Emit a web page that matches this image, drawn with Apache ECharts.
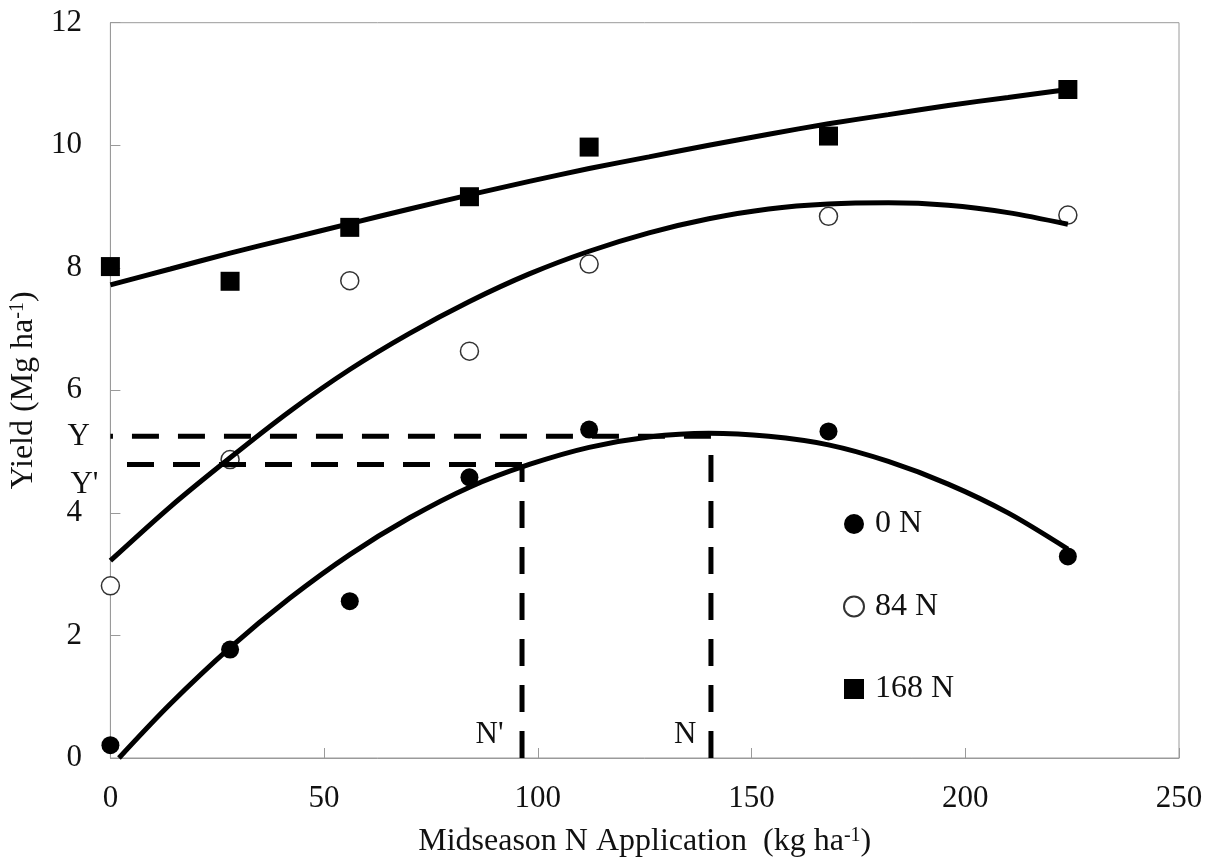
<!DOCTYPE html>
<html>
<head>
<meta charset="utf-8">
<script src="https://cdn.jsdelivr.net/npm/echarts@6/dist/echarts.min.js"></script>
<style>
  html, body { margin: 0; padding: 0; background: #fff; }
  #chart { width: 1217px; height: 863px; }
</style>
</head>
<body>
<div id="chart"></div>
<script>
// Midseason N rate (kg ha-1) and observed yields for three preplant N rates
const rates = [0, 28, 56, 84, 112, 168, 224];
const yield0N = [0.21, 1.77, 2.56, 4.58, 5.36, 5.33, 3.29];
const yield84N = [2.81, 4.87, 7.79, 6.64, 8.06, 8.84, 8.86];
const yield168N = [8.02, 7.78, 8.66, 9.16, 9.97, 10.15, 10.91];

// Fitted response curves, sampled along the N rate axis
const fitRates = [0, 14, 28, 42, 56, 70, 84, 98, 112, 126, 140, 154, 168, 182, 196, 210, 224];
const fit168N = [7.72, 7.98, 8.24, 8.48, 8.72, 8.96, 9.19, 9.41, 9.62, 9.81, 10.0, 10.18, 10.35, 10.5, 10.65, 10.78, 10.91];
const fit84N = [3.22, 4.1, 4.9, 5.66, 6.34, 6.93, 7.45, 7.9, 8.27, 8.57, 8.8, 8.96, 9.04, 9.06, 9.02, 8.9, 8.71];
const fit0NRates = [2, 14, 28, 42, 56, 70, 84, 98, 112, 126, 140, 154, 168, 182, 196, 210, 224];
const fit0N = [0, 0.88, 1.8, 2.61, 3.32, 3.92, 4.42, 4.79, 5.07, 5.24, 5.3, 5.25, 5.11, 4.84, 4.47, 4.0, 3.41];

// Guide lines: optimum (N, Y) and reduced (N', Y')
const optRate = 140.5, optYield = 5.25;
const primeRate = 96.3, primeYield = 4.79;

const seriesNames = ['0 N', '84 N', '168 N'];
const xTicks = [0, 50, 100, 150, 200, 250];
const yTicks = [0, 2, 4, 6, 8, 10, 12];

const FONT = "'Liberation Serif', 'Times New Roman', serif";
const INK = '#111';
const AXIS = '#9a9a9a';

const pairs = (xs, ys) => xs.map((x, i) => [x, ys[i]]);

const guide = { color: '#000', width: 5, type: [27, 19], cap: 'butt' };
const guideLabel = (text, distance, dy) => ({
  show: true, formatter: text, position: 'left', distance: distance, offset: [0, dy],
  fontFamily: FONT, fontSize: 31, color: INK
});
const guideSeries = (data, labelIndex, label) => ({
  type: 'line', data: data.map((p, i) => i === labelIndex ? { value: p, label: label } : { value: p }),
  symbol: 'circle', symbolSize: 1, showSymbol: true, itemStyle: { color: 'rgba(0,0,0,0)' },
  lineStyle: guide, label: { show: false }, z: 4, silent: true, animation: false
});

const curve = (xs, ys) => ({
  type: 'line', data: pairs(xs, ys), smooth: 0.3, symbol: 'none',
  lineStyle: { color: '#000', width: 5 }, z: 3, silent: true, animation: false
});

const nameStyle = {
  fontFamily: FONT, fontSize: 32, color: INK, lineHeight: 32,
  rich: { sup: { fontSize: 20, lineHeight: 32, verticalAlign: 'top', padding: [0, 0, 10, 0], fontFamily: FONT, color: INK } }
};

const chart = echarts.init(document.getElementById('chart'), null, { renderer: 'canvas' });
chart.setOption({
  backgroundColor: '#fff',
  animation: false,
  textStyle: { fontFamily: FONT },
  grid: {
    left: 108.5, right: 38, top: 22.7, bottom: 103.5,
    show: true, borderColor: AXIS, borderWidth: 1, backgroundColor: 'transparent'
  },
  legend: {
    data: seriesNames, orient: 'vertical', left: 838, top: 503,
    itemWidth: 20, itemHeight: 20, itemGap: 50.5,
    textStyle: { fontFamily: FONT, fontSize: 32, color: INK, lineHeight: 32, padding: [0, 0, 0, 6] },
    selectedMode: false
  },
  xAxis: {
    type: 'value', min: xTicks[0], max: xTicks[xTicks.length - 1], interval: 50,
    name: 'Midseason N Application  (kg ha{sup|-1})', nameLocation: 'middle', nameGap: 68,
    nameTextStyle: nameStyle,
    axisLine: { show: true, lineStyle: { color: AXIS, width: 1 } },
    axisTick: { show: true, inside: true, length: 10, lineStyle: { color: AXIS, width: 1 } },
    axisLabel: { fontFamily: FONT, fontSize: 31, color: INK, lineHeight: 31, margin: 25 },
    splitLine: { show: false }
  },
  yAxis: {
    type: 'value', min: yTicks[0], max: yTicks[yTicks.length - 1], interval: 2,
    name: 'Yield (Mg ha{sup|-1})', nameLocation: 'middle', nameGap: 54,
    nameTextStyle: nameStyle,
    axisLine: { show: true, lineStyle: { color: AXIS, width: 1 } },
    axisTick: { show: true, inside: true, length: 10, lineStyle: { color: AXIS, width: 1 } },
    axisLabel: { fontFamily: FONT, fontSize: 31, color: INK, margin: 28.5 },
    splitLine: { show: false }
  },
  series: [
    {
      name: seriesNames[0], type: 'scatter', data: pairs(rates, yield0N),
      symbol: 'circle', symbolSize: 18, itemStyle: { color: '#000', opacity: 1 }, z: 2
    },
    {
      name: seriesNames[1], type: 'scatter', data: pairs(rates, yield84N),
      symbol: 'circle', symbolSize: 18,
      itemStyle: { color: '#fff', borderColor: '#333', borderWidth: 1.5, opacity: 1 }, z: 2
    },
    {
      name: seriesNames[2], type: 'scatter', data: pairs(rates, yield168N),
      symbol: 'rect', symbolSize: 19, itemStyle: { color: '#000', opacity: 1 }, z: 2
    },
    curve(fitRates, fit168N),
    curve(fitRates, fit84N),
    curve(fit0NRates, fit0N),
    // horizontal guides run from the vertical guide back to the yield axis
    guideSeries([[optRate, optYield], [0, optYield]], 1, guideLabel('Y', 20, 1)),
    guideSeries([[primeRate, primeYield], [0, primeYield]], 1, guideLabel("Y'", 11.5, 20)),
    // vertical guides rise from the rate axis
    guideSeries([[optRate, 0], [optRate, optYield]], 0, guideLabel('N', 14, -23)),
    guideSeries([[primeRate, 0], [primeRate, primeYield]], 0, guideLabel("N'", 18, -23))
  ]
});
</script>
</body>
</html>
